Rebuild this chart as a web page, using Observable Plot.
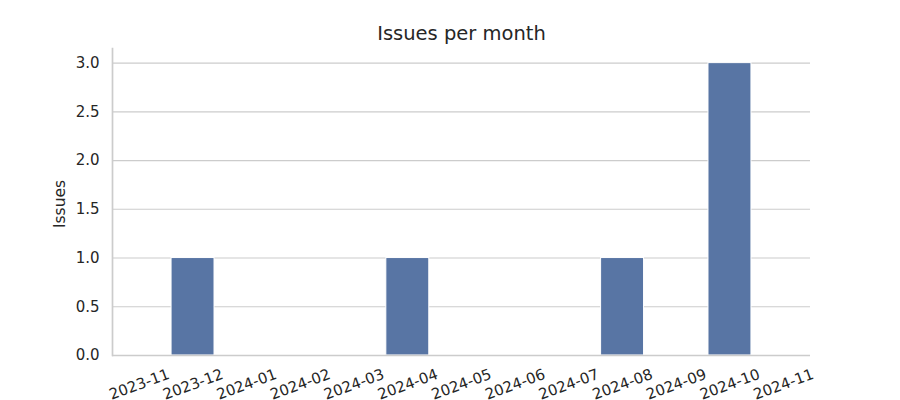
<!DOCTYPE html>
<html>
<head>
<meta charset="utf-8">
<script src="https://cdn.jsdelivr.net/npm/d3@7"></script>
<script src="https://cdn.jsdelivr.net/npm/@observablehq/plot@0.6"></script>
<style>
  html, body { margin: 0; padding: 0; background: #fff; }
  #chart svg { display: block; }
</style>
</head>
<body>
<div id="chart"></div>
<script>
const months = ["2023-11","2023-12","2024-01","2024-02","2024-03","2024-04","2024-05","2024-06","2024-07","2024-08","2024-09","2024-10","2024-11"];
const counts = [0, 1, 0, 0, 0, 1, 0, 0, 0, 1, 0, 3, 0];
const yTicks = [0, 0.5, 1, 1.5, 2, 2.5, 3];
const title = "Issues per month";
const yLabel = "Issues";

const data = months.map((m, i) => ({month: m, count: counts[i]}));
const ink = "#262626";
const spine = "#cccccc";

const chart = Plot.plot({
  width: 900,
  height: 400,
  marginLeft: 112,
  marginRight: 90,
  marginTop: 48,
  marginBottom: 45,
  style: {fontFamily: "DejaVu Sans", fontSize: "15px", background: "#fff", color: ink},
  x: {domain: months, paddingInner: 0.2, paddingOuter: 0.1, round: false},
  y: {domain: [0, 3.15]},
  marks: [
    Plot.gridY(yTicks, {stroke: spine, strokeOpacity: 1, strokeWidth: 1.1}),
    Plot.barY(data.filter(d => d.count > 0), {x: "month", y: "count", fill: "#5875a4", stroke: "white", strokeWidth: 1}),
    Plot.axisY(yTicks, {tickSize: 0, tickPadding: 13, tickFormat: d3.format(".1f"), fontSize: 15, fill: ink, label: null}),
    Plot.axisX({tickSize: 0, tickPadding: 29, tickRotate: -20, textAnchor: "middle", lineAnchor: "middle", fontSize: 15, fill: ink, label: null}),
    Plot.frame({anchor: "left", stroke: spine, strokeWidth: 1.7}),
    Plot.ruleY([0], {stroke: spine, strokeWidth: 1.7}),
    Plot.text([title], {frameAnchor: "top", lineAnchor: "middle", dy: -15, fontSize: 19.5, fill: ink}),
    Plot.text([yLabel], {frameAnchor: "left", textAnchor: "middle", lineAnchor: "middle", dx: -52, dy: 2, rotate: -90, fontSize: 15.5, fill: ink})
  ]
});
document.getElementById("chart").appendChild(chart);
</script>
</body>
</html>
